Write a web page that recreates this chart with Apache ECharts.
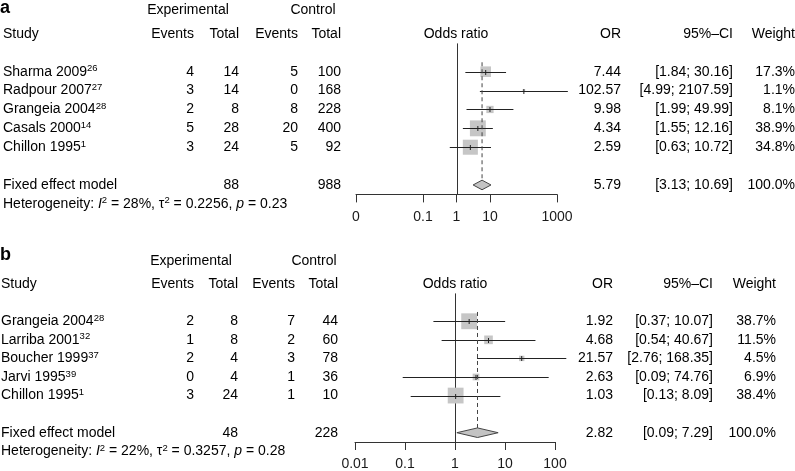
<!DOCTYPE html>
<html><head><meta charset="utf-8">
<script src="https://cdn.jsdelivr.net/npm/echarts@6/dist/echarts.min.js"></script>
<style>html,body{margin:0;padding:0;background:#fff}#c{width:795px;height:471px}</style>
</head><body><div id="c"></div>
<script>
// ---------- Panel a data ----------
const studiesA = ['Sharma 2009','Radpour 2007','Grangeia 2004','Casals 2000','Chillon 1995'];
const refsA = ['26','27','28','14','1'];
const expEventsA = [4,3,2,5,3];
const expTotalA = [14,14,8,28,24];
const ctrlEventsA = [5,0,8,20,5];
const ctrlTotalA = [100,168,228,400,92];
const orA = [7.44,102.57,9.98,4.34,2.59];
const loA = [1.84,4.99,1.99,1.55,0.63];
const hiA = [30.16,2107.59,49.99,12.16,10.72];
const weightA = [17.3,1.1,8.1,38.9,34.8];
const fixedA = [5.79,3.13,10.69];
const fixedCiTextA = '[3.13; 10.69]';
const fixedTotalsA = [88,988];
const heteroA = ['28%','0.2256','0.23'];
const ticksA = [0.001,0.1,1,10,1000];
const tickLabelsA = ['0','0.1','1','10','1000'];

// ---------- Panel b data ----------
const studiesB = ['Grangeia 2004','Larriba 2001','Boucher 1999','Jarvi 1995','Chillon 1995'];
const refsB = ['28','32','37','39','1'];
const expEventsB = [2,1,2,0,3];
const expTotalB = [8,8,4,4,24];
const ctrlEventsB = [7,2,3,1,1];
const ctrlTotalB = [44,60,78,36,10];
const orB = [1.92,4.68,21.57,2.63,1.03];
const loB = [0.37,0.54,2.76,0.09,0.13];
const hiB = [10.07,40.67,168.35,74.76,8.09];
const weightB = [38.7,11.5,4.5,6.9,38.4];
const fixedB = [2.82,1.09,7.29];
const fixedCiTextB = '[0.09; 7.29]';
const fixedTotalsB = [48,228];
const heteroB = ['22%','0.3257','0.28'];
const ticksB = [0.01,0.1,1,10,100];
const tickLabelsB = ['0.01','0.1','1','10','100'];

const FONT = '"Liberation Sans", Arial, Helvetica, sans-serif';
const TXT = '#1a1a1a';
const LINE = '#222';
const rich = {
  n: {fontSize:14, fontFamily:FONT, color:TXT, lineHeight:16},
  s: {fontSize:9.5, fontFamily:FONT, color:TXT, verticalAlign:'top', lineHeight:9},
  i: {fontSize:14, fontFamily:FONT, color:TXT, fontStyle:'italic', lineHeight:16},
  b: {fontSize:18, fontWeight:'bold', fontFamily:FONT, color:'#000'}
};

function buildText(cfg) {
  const items = [];
  const add = (row, x, text, align) => items.push({row, x, text, align});
  const c = cfg.cols;
  add(cfg.letterRow, 0, '{b|' + cfg.letter + '}', 'left');
  add(-3.25, c.expHead, '{n|Experimental}', 'center');
  add(-3.25, c.ctrlHead, '{n|Control}', 'center');
  add(-2, c.study, '{n|Study}', 'left');
  add(-2, c.ee, '{n|Events}', 'right');
  add(-2, c.et, '{n|Total}', 'right');
  add(-2, c.ce, '{n|Events}', 'right');
  add(-2, c.ct, '{n|Total}', 'right');
  add(-2, c.orHead, '{n|Odds ratio}', 'center');
  add(-2, c.or, '{n|OR}', 'right');
  add(-2, c.ci, '{n|95%–CI}', 'right');
  add(-2, c.w, '{n|Weight}', 'right');
  cfg.studies.forEach((s, i) => {
    add(i, c.study, '{n|' + s + '}{s|' + cfg.refs[i] + '}', 'left');
    add(i, c.ee, '{n|' + cfg.ee[i] + '}', 'right');
    add(i, c.et, '{n|' + cfg.et[i] + '}', 'right');
    add(i, c.ce, '{n|' + cfg.ce[i] + '}', 'right');
    add(i, c.ct, '{n|' + cfg.ct[i] + '}', 'right');
    add(i, c.or, '{n|' + cfg.or[i].toFixed(2) + '}', 'right');
    add(i, c.ci, '{n|[' + cfg.lo[i].toFixed(2) + '; ' + cfg.hi[i].toFixed(2) + ']}', 'right');
    add(i, c.w, '{n|' + cfg.w[i].toFixed(1) + '%}', 'right');
  });
  add(6, c.study, '{n|Fixed effect model}', 'left');
  add(6, c.et, '{n|' + cfg.totals[0] + '}', 'right');
  add(6, c.ct, '{n|' + cfg.totals[1] + '}', 'right');
  add(6, c.or, '{n|' + cfg.fixed[0].toFixed(2) + '}', 'right');
  add(6, c.ci, '{n|' + cfg.fixedCi + '}', 'right');
  add(6, c.w, '{n|100.0%}', 'right');
  add(7, c.study, '{n|Heterogeneity: }{i|I}{s|2}{n| = ' + cfg.het[0] + ', τ}{s|2}{n| = ' + cfg.het[1] + ', }{i|p}{n| = ' + cfg.het[2] + '}', 'left');
  return items;
}

function textSeries(gi, items) {
  return {
    type: 'custom', xAxisIndex: gi, yAxisIndex: gi, clip: false, silent: true,
    data: items.map(it => [1, it.row]),
    renderItem: (params, api) => {
      const it = items[params.dataIndex];
      const y = api.coord([1, api.value(1)])[1];
      return {
        type: 'text', x: it.x, y: y,
        style: { text: it.text, textAlign: it.align, textVerticalAlign: 'middle', rich: rich }
      };
    }
  };
}

function forestSeries(gi, or, lo, hi, w, fixed) {
  const rows = or.map((v, i) => [v, lo[i], hi[i], w[i], i]);
  return [
    { // null line at OR = 1
      type: 'custom', xAxisIndex: gi, yAxisIndex: gi, clip: false, silent: true,
      data: [[1, -1.5, 6.5]],
      renderItem: (p, api) => {
        const a = api.coord([api.value(0), api.value(1)]);
        const b = api.coord([api.value(0), api.value(2)]);
        const x = Math.round(a[0]) + 0.5;
        return {type:'line', shape:{x1:x, y1:a[1], x2:x, y2:b[1]}, style:{stroke:'#333', lineWidth:1}};
      }
    },
    { // studies
      type: 'custom', xAxisIndex: gi, yAxisIndex: gi, clip: false, silent: true,
      data: rows,
      renderItem: (p, api) => {
        const row = api.value(4);
        const c = api.coord([api.value(0), row]);
        const l = api.coord([api.value(1), row]);
        const h = api.coord([api.value(2), row]);
        const s = 2.55 * Math.sqrt(api.value(3));
        const y = Math.round(c[1]) + 0.5;
        return {type:'group', children:[
          {type:'rect', shape:{x:c[0]-s/2, y:c[1]-s/2, width:s, height:s}, style:{fill:'#c6c6c6'}},
          {type:'line', shape:{x1:l[0], y1:y, x2:h[0], y2:y}, style:{stroke:LINE, lineWidth:1}},
          {type:'line', shape:{x1:c[0], y1:y-2.5, x2:c[0], y2:y+2.5}, style:{stroke:LINE, lineWidth:1}}
        ]};
      }
    },
    { // dashed fixed-effect line
      type: 'custom', xAxisIndex: gi, yAxisIndex: gi, clip: false, silent: true,
      data: [[fixed[0], -0.5, 6]],
      renderItem: (p, api) => {
        const a = api.coord([api.value(0), api.value(1)]);
        const b = api.coord([api.value(0), api.value(2)]);
        return {type:'line', shape:{x1:a[0], y1:a[1], x2:a[0], y2:b[1]-4}, style:{stroke:'#444', lineWidth:1, lineDash:[4,3]}};
      }
    },
    { // diamond
      type: 'custom', xAxisIndex: gi, yAxisIndex: gi, clip: false, silent: true,
      data: [[fixed[0], fixed[1], fixed[2], 6]],
      renderItem: (p, api) => {
        const row = api.value(3);
        const c = api.coord([api.value(0), row]);
        const l = api.coord([api.value(1), row]);
        const h = api.coord([api.value(2), row]);
        const hh = 4.8;
        return {type:'polygon', shape:{points:[[l[0],c[1]],[c[0],c[1]-hh],[h[0],c[1]],[c[0],c[1]+hh]]},
          style:{fill:'#c3c3c3', stroke:'#444', lineWidth:1}};
      }
    }
  ];
}

function xAxisDef(gi, min, max, ticks, labels, margin) {
  return {
    type: 'log', logBase: 10, gridIndex: gi, min: min, max: max, position: 'bottom',
    splitLine: {show:false},
    axisLine: {show:true, onZero:false, lineStyle:{color:'#333', width:1}},
    axisTick: {show:true, inside:false, length:8, lineStyle:{color:'#333'}, customValues: ticks},
    axisLabel: {show:true, margin: margin, fontSize:14, fontFamily:FONT, color:TXT, customValues: ticks,
      formatter: v => { const k = ticks.findIndex(t => Math.abs(Math.log10(t) - Math.log10(v)) < 1e-6); return k >= 0 ? labels[k] : ''; }
    }
  };
}

const textA = buildText({
  letter:'a', letterRow:-3.35, studies:studiesA, refs:refsA, ee:expEventsA, et:expTotalA, ce:ctrlEventsA, ct:ctrlTotalA,
  or:orA, lo:loA, hi:hiA, w:weightA, fixed:fixedA, fixedCi:fixedCiTextA, totals:fixedTotalsA, het:heteroA,
  cols:{expHead:188, ctrlHead:313, study:3, ee:194, et:239, ce:298, ct:341, orHead:456, or:621, ci:733, w:795}
});
const textB = buildText({
  letter:'b', letterRow:-3.55, studies:studiesB, refs:refsB, ee:expEventsB, et:expTotalB, ce:ctrlEventsB, ct:ctrlTotalB,
  or:orB, lo:loB, hi:hiB, w:weightB, fixed:fixedB, fixedCi:fixedCiTextB, totals:fixedTotalsB, het:heteroB,
  cols:{expHead:191, ctrlHead:314, study:1, ee:194, et:238, ce:295, ct:338, orHead:455, or:613, ci:713, w:776}
});

const chart = echarts.init(document.getElementById('c'), null, {renderer:'canvas'});
chart.setOption({
  animation: false,
  backgroundColor: '#fff',
  grid: [
    {left:356, width:201, top:43.4, height:151},
    {left:355, width:200, top:293.4, height:151}
  ],
  xAxis: [
    xAxisDef(0, 0.001, 1000, ticksA, tickLabelsA, 16),
    xAxisDef(1, 0.01, 100, ticksB, tickLabelsB, 15)
  ],
  yAxis: [
    {type:'value', gridIndex:0, min:-1.5, max:6.5, inverse:true, show:false},
    {type:'value', gridIndex:1, min:-1.5, max:6.5, inverse:true, show:false}
  ],
  series: [].concat(
    forestSeries(0, orA, loA, hiA, weightA, fixedA),
    forestSeries(1, orB, loB, hiB, weightB, fixedB),
    [textSeries(0, textA), textSeries(1, textB)]
  )
});
</script></body></html>
